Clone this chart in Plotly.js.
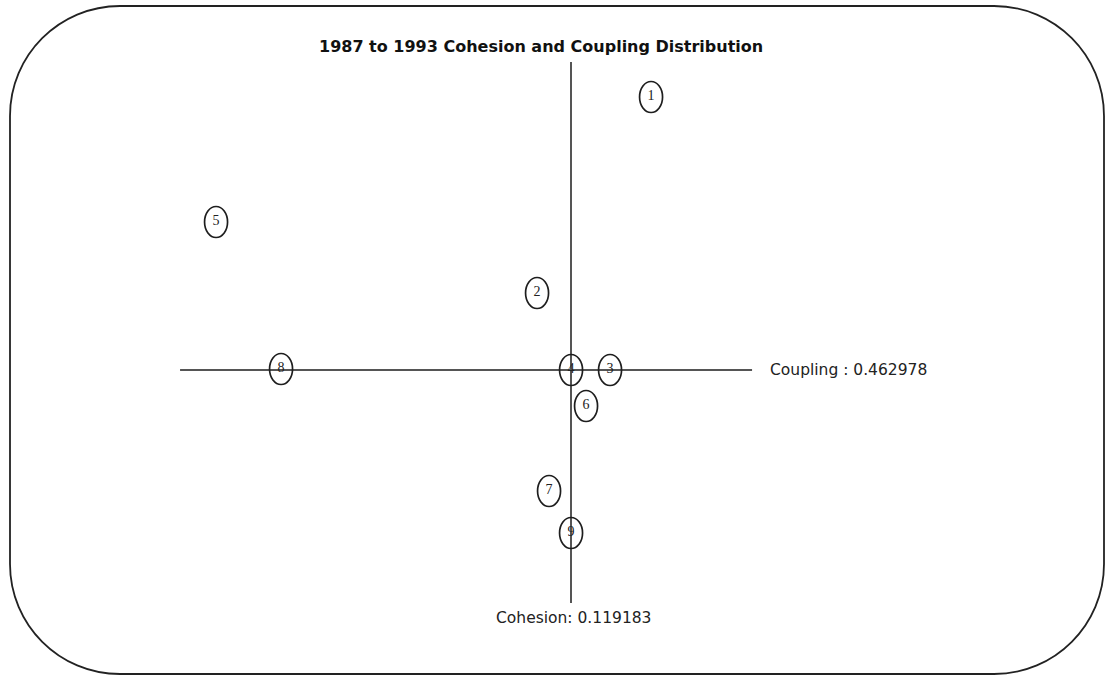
<!DOCTYPE html>
<html>
<head>
<meta charset="utf-8">
<script src="https://cdn.plot.ly/plotly-3.0.1.min.js"></script>
<style>html,body{margin:0;padding:0;background:#fff;}#chart{width:1106px;height:676px;}</style>
</head>
<body>
<div id="chart"></div>
<script>
// ---- data ----
var moduleLabels = ["1", "2", "3", "4", "5", "6", "7", "8", "9"];
var cohesionValues = [0.1432, 0.1090, 0.1309, 0.1192, 0.0127, 0.1237, 0.1126, 0.0322, 0.1192];
var couplingValues = [0.736, 0.540, 0.463, 0.463, 0.611, 0.427, 0.342, 0.464, 0.300];
var meanCohesion = 0.119183;
var meanCoupling = 0.462978;
var couplingLineCohesionExtent = [0.0019, 0.1735];
var cohesionLineCouplingExtent = [0.230, 0.771];
var chartTitle = "1987 to 1993 Cohesion and Coupling Distribution";

// ---- layout helpers ----
var W = 1106, H = 676;
function px(x){ return x / W; }
function py(y){ return 1 - y / H; }
function roundedRectPath(x0, y0, x1, y1, r){
  var k = 0.5523 * r;
  var p = [];
  p.push('M' + px(x0 + r) + ',' + py(y0));
  p.push('L' + px(x1 - r) + ',' + py(y0));
  p.push('C' + px(x1 - r + k) + ',' + py(y0) + ' ' + px(x1) + ',' + py(y0 + r - k) + ' ' + px(x1) + ',' + py(y0 + r));
  p.push('L' + px(x1) + ',' + py(y1 - r));
  p.push('C' + px(x1) + ',' + py(y1 - r + k) + ' ' + px(x1 - r + k) + ',' + py(y1) + ' ' + px(x1 - r) + ',' + py(y1));
  p.push('L' + px(x0 + r) + ',' + py(y1));
  p.push('C' + px(x0 + r - k) + ',' + py(y1) + ' ' + px(x0) + ',' + py(y1 - r + k) + ' ' + px(x0) + ',' + py(y1 - r));
  p.push('L' + px(x0) + ',' + py(y0 + r));
  p.push('C' + px(x0) + ',' + py(y0 + r - k) + ' ' + px(x0 + r - k) + ',' + py(y0) + ' ' + px(x0 + r) + ',' + py(y0));
  p.push('Z');
  return p.join(' ');
}

var xScale = 0.0003, yScale = 0.001;
var centerPx = {x: 571, y: 370};
var xRange = [meanCohesion - centerPx.x * xScale, meanCohesion + (W - centerPx.x) * xScale];
var yRange = [meanCoupling - (H - centerPx.y) * yScale, meanCoupling + centerPx.y * yScale];

var lineColor = '#555';
var labelFont = 'DejaVu Sans, Verdana, sans-serif';

var traces = [
  { x: couplingLineCohesionExtent, y: [meanCoupling, meanCoupling], mode: 'lines',
    line: {color: lineColor, width: 2}, hoverinfo: 'skip', showlegend: false },
  { x: [meanCohesion, meanCohesion], y: cohesionLineCouplingExtent, mode: 'lines',
    line: {color: lineColor, width: 2}, hoverinfo: 'skip', showlegend: false },
  { x: cohesionValues, y: couplingValues, mode: 'text', text: moduleLabels,
    textposition: 'middle center',
    textfont: {family: 'Liberation Serif, serif', size: 14, color: '#222'},
    showlegend: false }
];

var shapes = [{
  type: 'path', xref: 'paper', yref: 'paper',
  path: roundedRectPath(10, 6, 1104, 674, 110),
  line: {color: '#222', width: 1.8}, fillcolor: 'rgba(0,0,0,0)'
}];
for (var i = 0; i < cohesionValues.length; i++) {
  shapes.push({
    type: 'circle', xref: 'x', yref: 'y',
    xsizemode: 'pixel', ysizemode: 'pixel',
    xanchor: cohesionValues[i], yanchor: couplingValues[i],
    x0: -11.5, x1: 11.5, y0: -15.5, y1: 15.5,
    line: {color: '#1e1e1e', width: 1.7}, fillcolor: 'rgba(0,0,0,0)'
  });
}

var layout = {
  width: W, height: H,
  margin: {l: 0, r: 0, t: 0, b: 0},
  paper_bgcolor: '#fff', plot_bgcolor: '#fff',
  xaxis: {range: xRange, visible: false, showgrid: false, zeroline: false, fixedrange: true},
  yaxis: {range: yRange, visible: false, showgrid: false, zeroline: false, fixedrange: true},
  shapes: shapes,
  annotations: [
    { xref: 'paper', yref: 'paper', x: px(541), y: py(46), text: '<b>' + chartTitle + '</b>',
      showarrow: false, xanchor: 'center', yanchor: 'middle',
      font: {family: labelFont, size: 16, color: '#111'} },
    { xref: 'x', yref: 'y', x: couplingLineCohesionExtent[1], y: meanCoupling,
      text: 'Coupling : ' + meanCoupling, showarrow: false, xanchor: 'left', yanchor: 'middle',
      xshift: 16, font: {family: labelFont, size: 15.5, color: '#222'} },
    { xref: 'x', yref: 'y', x: meanCohesion, y: cohesionLineCouplingExtent[0],
      text: 'Cohesion: ' + meanCohesion, showarrow: false, xanchor: 'center', yanchor: 'top',
      xshift: 2, yshift: -4, font: {family: labelFont, size: 15.5, color: '#222'} }
  ]
};

Plotly.newPlot('chart', traces, layout, {displayModeBar: false, staticPlot: true});
</script>
</body>
</html>
